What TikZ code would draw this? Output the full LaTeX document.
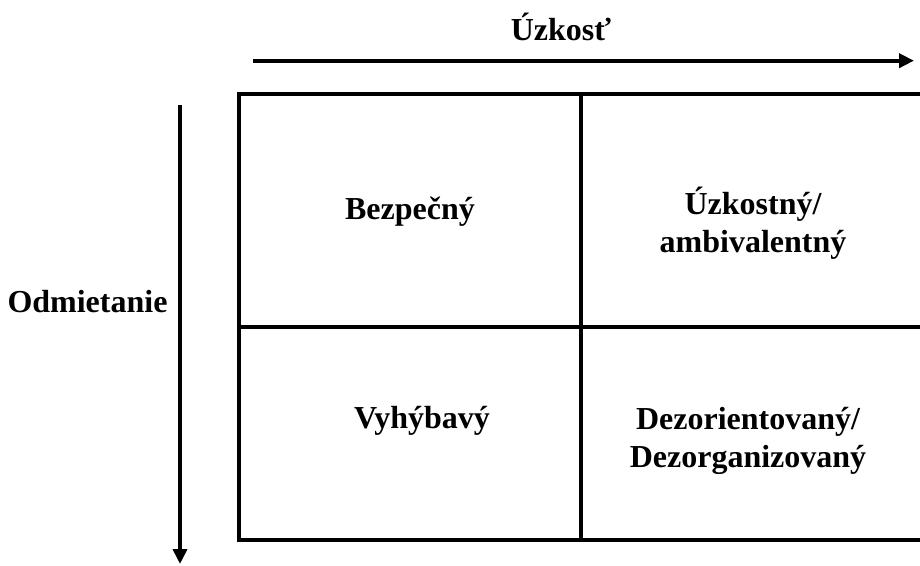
\documentclass[tikz,border=0pt]{standalone}
\usepackage{fontspec}
\setmainfont{Liberation Serif}
\usetikzlibrary{arrows.meta}
\begin{document}
\begin{tikzpicture}[x=1pt,y=-1pt,
  gridline/.style={line width=4pt},
  axisarrow/.style={line width=4pt,-{Triangle[length=15pt,width=14pt]}},
  lbl/.style={font=\fontsize{32}{38}\selectfont\bfseries,align=center,inner sep=0pt}]
\useasboundingbox (0,0) rectangle (920,565);
% grid corners
\coordinate (tl) at (238.7,94.3);
\coordinate (tr) at (922,94.3);
\coordinate (bl) at (238.7,540);
\coordinate (br) at (922,540);
\coordinate (tm) at (581.3,94.3);
\coordinate (bm) at (581.3,540);
\coordinate (ml) at (238.7,326.7);
\coordinate (mr) at (922,326.7);
\draw[gridline] (tl) -- (tr) -- (br) -- (bl) -- cycle;
\draw[gridline] (tm) -- (bm);
\draw[gridline] (ml) -- (mr);
% axes
\coordinate (hs) at (253,60.7);
\coordinate (he) at (914,60.7);
\coordinate (vs) at (180,105);
\coordinate (ve) at (180,564);
\draw[axisarrow] (hs) -- (he);
\draw[axisarrow] (vs) -- (ve);
% labels
\node[lbl] (uzk) at (561,27) {Úzkosť};
\node[lbl] (odm) at (87.5,302) {Odmietanie};
\node[lbl] (bez) at (410,212) {Bezpečný};
\node[lbl] (amb) at (753,223) {Úzkostný/\\ambivalentný};
\node[lbl] (vyh) at (422,421) {Vyhýbavý};
\node[lbl] (dez) at (748,441) {Dezorientovaný/\\Dezorganizovaný};
\end{tikzpicture}
\end{document}
